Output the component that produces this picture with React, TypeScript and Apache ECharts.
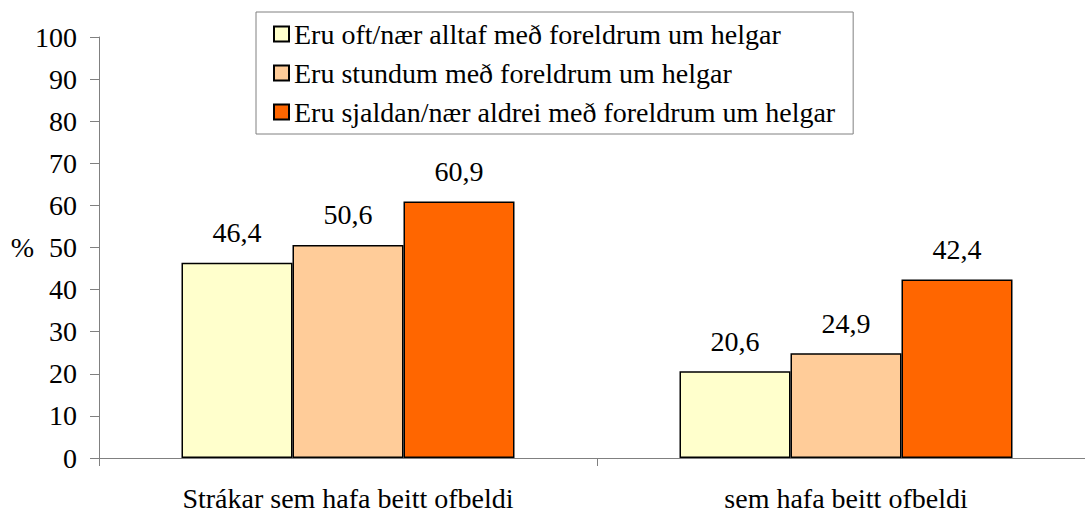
import React, { useEffect, useRef } from "react";
import * as echarts from "echarts";

const categories = ["Strákar sem hafa beitt ofbeldi", "sem hafa beitt ofbeldi"];
const seriesNames = [
  "Eru oft/nær alltaf með foreldrum um helgar",
  "Eru stundum með foreldrum um helgar",
  "Eru sjaldan/nær aldrei með foreldrum um helgar",
];
const oftValues = [46.4, 20.6];
const stundumValues = [50.6, 24.9];
const sjaldanValues = [60.9, 42.4];
const seriesColors = ["#FFFFCC", "#FFCC99", "#FF6600"];
const yMin = 0;
const yMax = 100;
const yInterval = 10;

const FONT = "Liberation Serif";
const FS = 28;

export default function App() {
  const ref = useRef<HTMLDivElement>(null);
  useEffect(() => {
    if (!ref.current) return;
    const chart = echarts.init(ref.current, null, { renderer: "svg" });
    const values = [oftValues, stundumValues, sjaldanValues];
    chart.setOption({
      animation: false,
      backgroundColor: "#ffffff",
      textStyle: { fontFamily: FONT },
      grid: { left: 99, right: 5, top: 37, bottom: 55, containLabel: false },
      legend: {
        orient: "vertical",
        left: 256,
        top: 12,
        padding: [8, 18, 8, 17],
        itemWidth: 15,
        itemHeight: 15,
        itemGap: 11,
        icon: "rect",
        borderColor: "#808080",
        borderWidth: 1,
        backgroundColor: "#ffffff",
        textStyle: {
          fontFamily: FONT,
          fontSize: FS,
          color: "#000",
          lineHeight: 28,
        },
        data: seriesNames,
      },
      xAxis: {
        type: "category",
        data: categories,
        axisLine: { lineStyle: { color: "#808080", width: 1 } },
        axisTick: { show: true, length: 8, lineStyle: { color: "#808080" } },
        axisLabel: { fontFamily: FONT, fontSize: FS, color: "#000", margin: 26 },
      },
      yAxis: {
        type: "value",
        min: yMin,
        max: yMax,
        interval: yInterval,
        name: "%",
        nameLocation: "middle",
        nameRotate: 0,
        nameGap: 65,
        nameMoveOverlap: false,
        nameTextStyle: { fontFamily: FONT, fontSize: FS, color: "#000" },
        splitLine: { show: false },
        axisLine: { show: true, lineStyle: { color: "#808080", width: 1 } },
        axisTick: { show: true, length: 9, lineStyle: { color: "#808080" } },
        axisLabel: { fontFamily: FONT, fontSize: FS, color: "#000", margin: 22 },
      },
      series: seriesNames.map((name, i) => ({
        name,
        type: "bar",
        data: values[i],
        barWidth: 111,
        barGap: "0%",
        itemStyle: { color: seriesColors[i], borderColor: "#000", borderWidth: 1.5 },
        label: {
          show: true,
          position: "top",
          distance: 16,
          fontFamily: FONT,
          fontSize: FS,
          color: "#000",
          formatter: (p: any) => String(p.value).replace(".", ","),
        },
      })),
    });
    return () => chart.dispose();
  }, []);
  return (
    <div
      ref={ref}
      style={{ position: "absolute", left: 0, top: 0, width: 1100, height: 513 }}
    />
  );
}
